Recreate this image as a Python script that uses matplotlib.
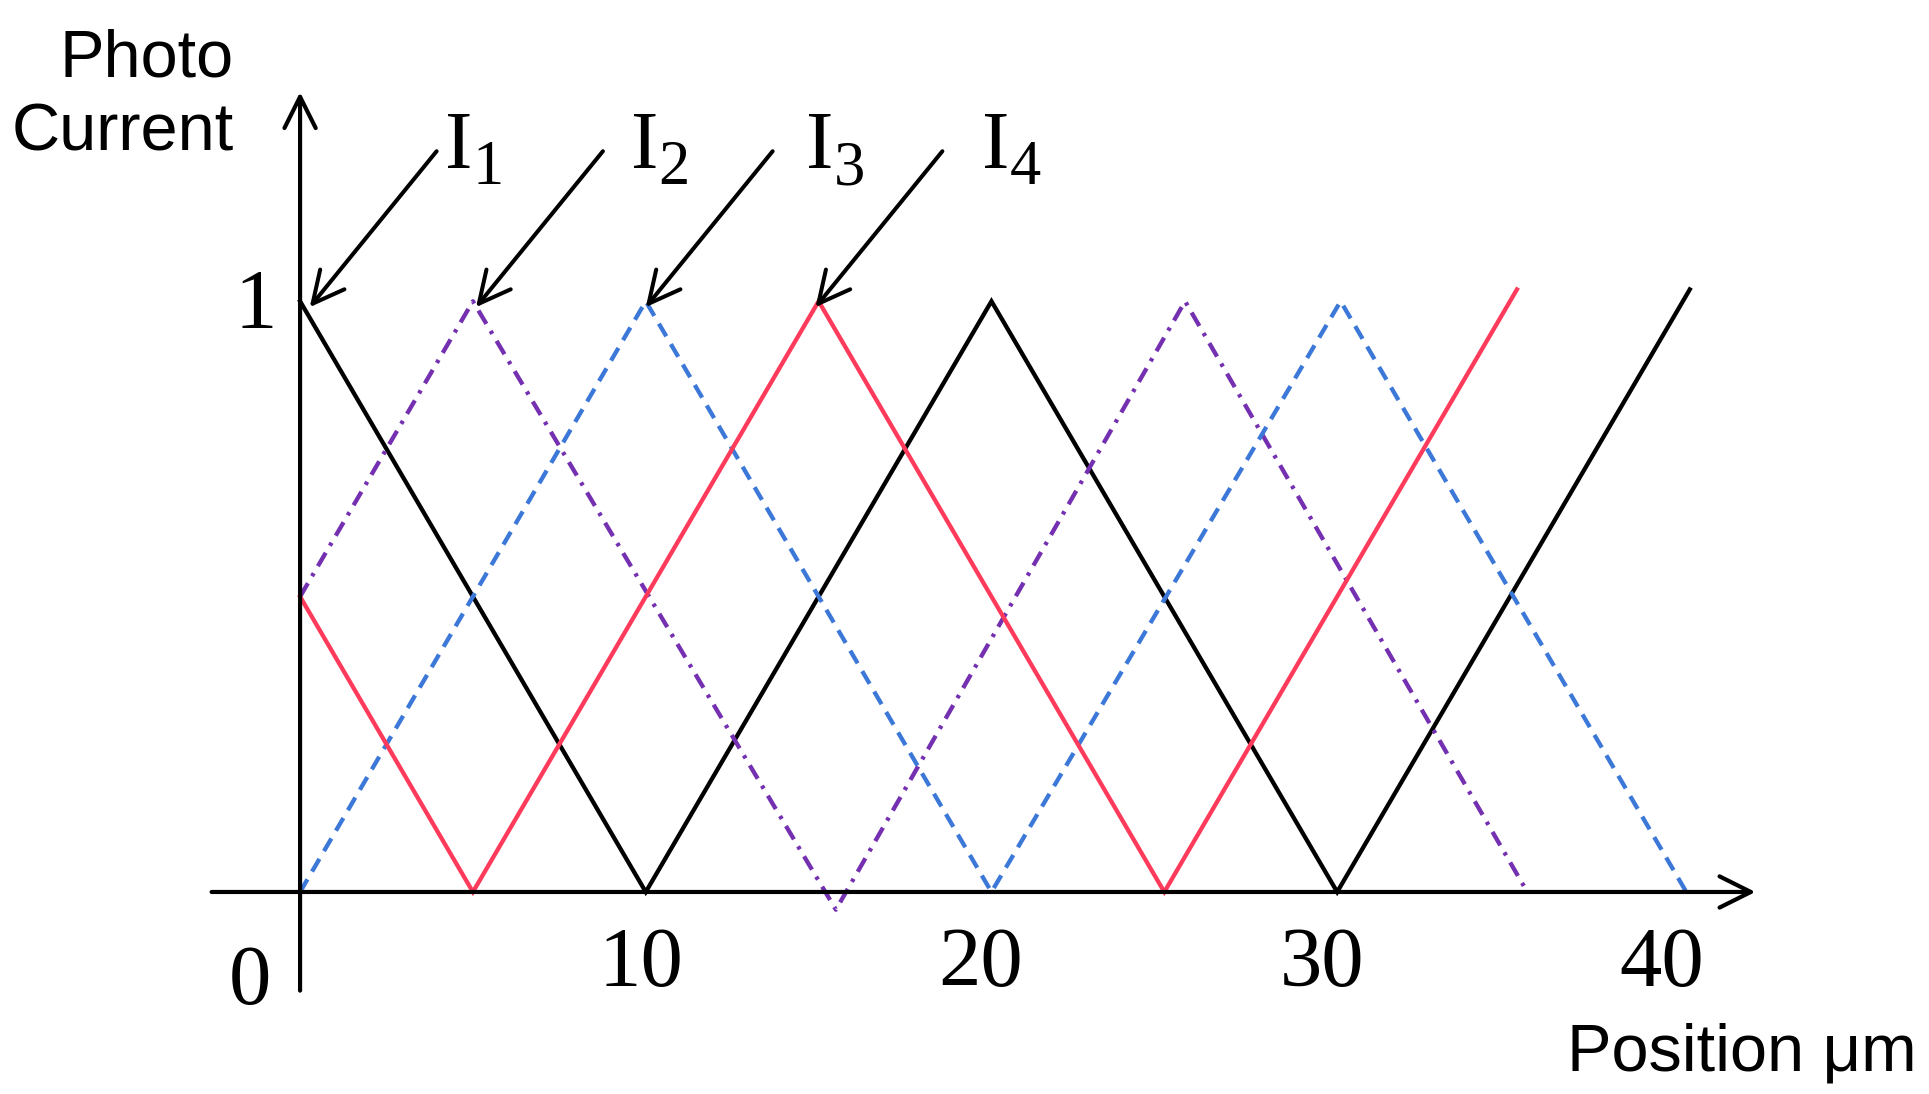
import matplotlib
matplotlib.use("Agg")
import matplotlib.pyplot as plt

# Datos de las cuatro corrientes (posición en um, corriente normalizada)
x_i1 = [0, 10, 20, 30, 40.2]
y_i1 = [1, 0, 1, 0, 1.02]

x_i2 = [0, 5, 15.5, 25.6, 35.5]
y_i2 = [0.5, 1, -0.03, 1, 0]

x_i3 = [0, 10, 20, 30.1, 40.1]
y_i3 = [0, 1, 0, 1, 0]

x_i4 = [0, 5, 15, 25, 35.2]
y_i4 = [0.5, 0, 1, 0, 1.02]

series_subs = ["1", "2", "3", "4"]
peak_x = [0.28, 5.09, 10.0, 14.91]   # donde apunta cada flecha
label_x = [4.2, 9.57, 14.63, 19.72]  # posición de cada etiqueta I_n
x_ticks = [10, 20, 30, 40]
x_tick_labels = ["10", "20", "30", "40"]

fig = plt.figure(figsize=(19.29, 10.94), dpi=100)
ax = fig.add_axes([0, 0, 1, 1])
ax.set_xlim(-8.68, 47.12)
ax.set_ylim(-0.342, 1.510)
ax.axis('off')

lw = 3.1
ax.plot(x_i1, y_i1, color='black', lw=lw, solid_joinstyle='miter')
ax.plot(x_i2, y_i2, color='#7430B0', lw=lw, dashes=(3.6, 1.9, 0.8, 1.9))
ax.plot(x_i3, y_i3, color='#3C78D8', lw=lw, dashes=(3.4, 2.1))
ax.plot(x_i4, y_i4, color='#FF3B5C', lw=lw, solid_joinstyle='miter')

# Ejes con flechas
arrow_axis = dict(arrowstyle='->,head_length=0.9,head_width=0.45',
                  color='black', lw=3.0, mutation_scale=25, shrinkA=0, shrinkB=0)
ax.annotate('', xy=(0, 1.354), xytext=(0, -0.167), arrowprops=arrow_axis)
ax.annotate('', xy=(42.1, 0), xytext=(-2.56, 0), arrowprops=arrow_axis)

# Flechas de etiquetas
arrow_lbl = dict(arrowstyle='->,head_length=0.9,head_width=0.45',
                 color='black', lw=2.9, mutation_scale=25, shrinkA=0, shrinkB=0)
for sub, px, lx in zip(series_subs, peak_x, label_x):
    ax.annotate('', xy=(px, 0.99), xytext=(px + 3.67, 1.254), arrowprops=arrow_lbl)
    ax.text(lx, 1.225, "I", fontsize=59, family='Liberation Serif',
            ha='left', va='baseline')
    ax.text(lx + 0.8, 1.198, sub, fontsize=45, family='Liberation Serif',
            ha='left', va='baseline')

# Etiquetas de marcas
serif = dict(fontsize=61, family='Liberation Serif', ha='center', va='center')
for v, t in zip(x_ticks, x_tick_labels):
    ax.text(v * 0.985, -0.125, t, **serif)
ax.text(-1.46, -0.155, "0", **serif)
ax.text(-1.28, 0.99, "1", **serif)

sans = dict(fontsize=48, family='Liberation Sans', ha='right', va='baseline')
ax.text(-1.92, 1.381, "Photo", **sans)
ax.text(-1.92, 1.256, "Current", **sans)
ax.text(46.75, -0.302, "Position μm", **sans)

fig.savefig("out.png", dpi=100)
